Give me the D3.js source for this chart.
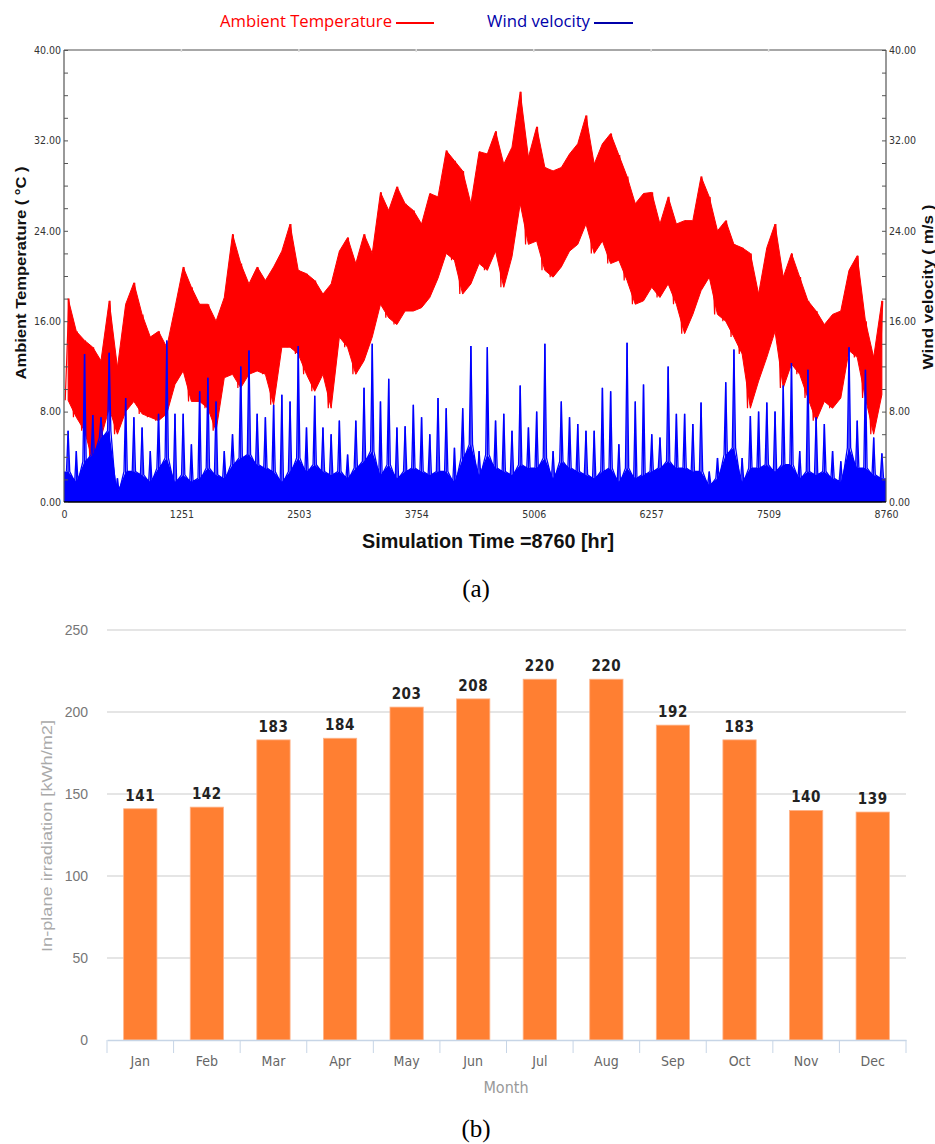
<!DOCTYPE html>
<html>
<head>
<meta charset="utf-8">
<script src="https://cdn.jsdelivr.net/npm/d3@7"></script>
<style>
  html, body { margin: 0; padding: 0; background: #fff; }
  svg { display: block; }
  .narrow { font-family: 'Liberation Sans Narrow', 'DejaVu Sans Condensed', 'Liberation Sans', Arial, sans-serif; }
</style>
</head>
<body>
<svg id="chart" width="935" height="1144"></svg>
<script>
// ---------------- DATA ----------------
// Panel (a): hourly simulation (8760 h) summarised in 100 bins of 87.6 h
const simHours = 8760;
const xTicksA = [0, 1251, 2503, 3754, 5006, 6257, 7509, 8760];
const yTicksA = [0, 8, 16, 24, 32, 40];

const tempHigh = [18,15.1,14.3,13.7,12.5,17.8,11.9,17.5,19.4,16.6,14.6,15.1,13.7,17.2,20.8,19,17.5,17.5,16,18.1,
  23.7,21.1,19.3,20.8,19.6,20.8,22.2,24.6,20.5,20.2,19.6,18.4,19.3,22.2,23.4,21.1,23.7,22,27.4,25.8,
  27.9,26.4,25.8,24.6,27.3,27,31.1,30.2,29.3,26.4,31,30.8,32.8,29.9,31.4,36.3,30.5,33.2,29.6,29.3,
  29.6,30.8,31.7,34.2,29.9,31.7,32.6,30.7,28.8,26.4,27.3,27.4,24.6,27,24.6,24.9,24.9,28.8,27,24,
  24.9,22.8,22.5,22,18.4,22.5,24.6,19.9,22,19.9,17.8,16.9,15.7,16.6,16.9,20.5,21.8,16,12.8,17.8];
const tempLow = [9,7.5,6.3,3.6,5.7,8.3,6,8,8.9,7.8,7.5,7.2,7.8,10.4,11.6,8.9,8.9,8.3,6.3,11,
  11.3,10.1,11.3,11.6,11.3,8.6,13.7,13.7,13.1,11.3,9.8,11.3,8.3,14.6,13.7,11.3,12.5,14.6,17.5,16.3,
  15.7,16.9,16.9,17.2,18.1,19.8,22,21.4,18.4,19.3,21.1,20.5,22.2,19,21.7,26.4,22.8,23.1,20.5,19.9,
  20.8,22.2,22.8,24.6,22,23.1,21.1,21.4,19.6,17.5,17.8,19,18.1,19.3,17.5,14.9,16.6,18.7,19.9,16.6,
  16,14.6,13.1,8.3,10.7,12.8,15.1,10.1,12.2,11.3,9.2,7.2,8.9,8.3,9.2,13.4,12.8,9.2,6,9.5];
const windPeak = [6.3,4.5,13.1,7.7,7.5,13.2,2.1,9.2,7.5,6.6,4.5,7.8,14.3,7.8,7.8,5.1,9.8,11,8.9,4.5,
  6,12,13.4,7.8,7.5,8.6,9.5,8.9,13.8,6.6,9.4,6.6,6,7.2,4.2,7.2,10.1,14,8.9,10.9,
  6.6,6.7,8.6,7.5,6,9.2,8.3,4.8,8.3,13.8,4.5,13.7,7.2,7.8,6.3,10.3,6.6,8,14,4.5,
  8.9,7.5,6.9,6.3,6.3,10.1,9.8,5.1,14.1,8.9,10.4,6,5.7,12,7.8,7.8,6.9,8.8,2.7,3.9,
  10.6,13.5,3.9,7.6,8,8.8,8,10.3,12.3,4.5,11.7,7.5,6.9,4.5,3.6,13.7,7.2,11.7,5.7,4.3];
const windTypical = [2.7,1.8,3.6,4.2,5.7,6.3,0.9,2.7,2.7,2.4,1.8,3,3.9,1.8,2.4,1.8,2.1,3,2.4,2.1,
  3.3,3.9,4.2,3.3,3,2.7,1.8,2.7,3.9,2.7,3.3,2.7,2.4,2.7,2.1,3,3.6,4.5,2.4,3.3,
  2.1,2.7,3,2.7,2.4,2.7,2.7,1.8,3.9,5.1,2.4,4.2,3,2.7,2.4,3.3,3,3,3.9,2.1,
  3.6,3,2.7,2.4,2.1,2.7,3,1.8,3,2.1,2.4,2.7,3,3.6,3,3,2.7,2.7,1.5,2.1,
  4.2,4.8,1.8,3,3,3.3,2.7,3.3,3.3,2.1,2.7,2.4,2.7,2.1,1.8,4.8,3,3,2.4,2.1];

// Panel (b): monthly in-plane irradiation
const months = ["Jan","Feb","Mar","Apr","May","Jun","Jul","Aug","Sep","Oct","Nov","Dec"];
const irradiation = [141,142,183,184,203,208,220,220,192,183,140,139];
const yTicksB = [0, 50, 100, 150, 200, 250];

// ---------------- DRAW ----------------
const svg = d3.select("#chart");
const nBins = tempHigh.length;
const binH = simHours / nBins;

// ===== Panel (a) =====
const xA = d3.scaleLinear().domain([0, simHours]).range([64, 886]);
const yA = d3.scaleLinear().domain([0, 40]).range([502, 50]);

const gA = svg.append("g");

// temperature band
const tempPts = tempHigh.map((h, i) => ({ t: (i + 0.5) * binH, hi: h, lo: tempLow[i] }));
const tempArea = d3.area()
  .x(d => xA(d.t)).y0(d => yA(d.lo)).y1(d => yA(d.hi)).curve(d3.curveLinear);
gA.append("path").datum(tempPts).attr("d", tempArea)
  .attr("fill", "#ff0000").attr("stroke", "#ff0000").attr("stroke-width", 1);

// zigzag texture for temperature
const zig = [];
tempPts.forEach((d, i) => {
  zig.push([xA(i * binH + binH * 0.15), yA(d.lo)]);
  zig.push([xA(i * binH + binH * 0.6), yA(d.hi)]);
});
gA.append("path").attr("d", d3.line()(zig))
  .attr("fill", "none").attr("stroke", "#ff0000").attr("stroke-width", 1.2);

// wind dense part
const windPts = windTypical.map((v, i) => ({ t: (i + 0.5) * binH, v: v, p: windPeak[i] }));
const windArea = d3.area()
  .x(d => xA(d.t)).y0(yA(0)).y1(d => yA(d.v)).curve(d3.curveLinear);
gA.append("path").datum([{t:0, v:windTypical[0]}, ...windPts, {t:simHours, v:windTypical[nBins-1]}])
  .attr("d", windArea).attr("fill", "#0000ff");

// wind spikes (narrow)
const wz = [];
windPts.forEach((d, i) => {
  wz.push([xA(i * binH + binH * 0.3), yA(d.v)]);
  wz.push([xA(d.t), yA(d.p)]);
  wz.push([xA(i * binH + binH * 0.7), yA(d.v)]);
});
gA.append("path").attr("d", d3.line()(wz))
  .attr("fill", "none").attr("stroke", "#0000ff").attr("stroke-width", 1.3);
gA.selectAll("line.spike").data(windPts).join("line")
  .attr("class", "spike")
  .attr("x1", d => xA(d.t)).attr("x2", d => xA(d.t))
  .attr("y1", yA(0)).attr("y2", d => yA(d.p))
  .attr("stroke", "#0000ff").attr("stroke-width", 1.4);

// frame
gA.append("line").attr("x1", 64).attr("x2", 886).attr("y1", 50).attr("y2", 50)
  .attr("stroke", "#8a8a8a").attr("stroke-width", 1.5);
gA.append("line").attr("x1", 64).attr("x2", 64).attr("y1", 50).attr("y2", 502)
  .attr("stroke", "#555").attr("stroke-width", 1.2);
gA.append("line").attr("x1", 886).attr("x2", 886).attr("y1", 50).attr("y2", 502)
  .attr("stroke", "#555").attr("stroke-width", 1.2);
gA.append("line").attr("x1", 64).attr("x2", 886).attr("y1", 502).attr("y2", 502)
  .attr("stroke", "#000").attr("stroke-width", 1.5);

// minor ticks (inside)
const minor = d3.range(0, 41, 2);
const leftMinor = gA.append("g").attr("transform", "translate(64,0)")
  .call(d3.axisRight(yA).tickValues(minor).tickSize(4).tickFormat(""));
leftMinor.select(".domain").remove();
leftMinor.selectAll("line").attr("stroke", "#555");
const rightMinor = gA.append("g").attr("transform", "translate(886,0)")
  .call(d3.axisLeft(yA).tickValues(minor).tickSize(4).tickFormat(""));
rightMinor.select(".domain").remove();
rightMinor.selectAll("line").attr("stroke", "#555");

// tick labels
const fmt = d3.format(".2f");
const leftAx = gA.append("g").attr("transform", "translate(64,0)")
  .call(d3.axisLeft(yA).tickValues(yTicksA).tickSize(0).tickPadding(3).tickFormat(fmt));
const rightAx = gA.append("g").attr("transform", "translate(886,0)")
  .call(d3.axisRight(yA).tickValues(yTicksA).tickSize(0).tickPadding(3).tickFormat(fmt));
const botAx = gA.append("g").attr("transform", "translate(0,502)")
  .call(d3.axisBottom(xA).tickValues(xTicksA).tickSize(0).tickPadding(9).tickFormat(d3.format("d")));
[leftAx, rightAx, botAx].forEach(a => {
  a.select(".domain").remove();
  a.selectAll("text").attr("class", "narrow").attr("font-size", 10.5).attr("fill", "#333");
});

// top tick marks
gA.selectAll("line.toptick").data(xTicksA.slice(1, -1)).join("line")
  .attr("class", "toptick")
  .attr("x1", d => xA(d)).attr("x2", d => xA(d)).attr("y1", 49).attr("y2", 52)
  .attr("stroke", "#ddd").attr("stroke-width", 1.5);

// axis titles
gA.append("text").attr("transform", "translate(26,273) rotate(-90)")
  .attr("text-anchor", "middle").attr("font-family", "'Liberation Sans', Arial, sans-serif")
  .attr("font-weight", "bold").attr("font-size", 14.5).attr("fill", "#111")
  .attr("textLength", 213).attr("lengthAdjust", "spacingAndGlyphs")
  .text("Ambient Temperature ( °C )");
gA.append("text").attr("transform", "translate(933,287) rotate(-90)")
  .attr("text-anchor", "middle").attr("font-family", "'Liberation Sans', Arial, sans-serif")
  .attr("font-weight", "bold").attr("font-size", 14.5).attr("fill", "#111")
  .attr("textLength", 165).attr("lengthAdjust", "spacingAndGlyphs")
  .text("Wind velocity ( m/s )");
gA.append("text").attr("x", 488).attr("y", 548)
  .attr("text-anchor", "middle").attr("font-family", "'Liberation Sans', Arial, sans-serif")
  .attr("font-weight", "bold").attr("font-size", 21).attr("fill", "#111")
  .attr("textLength", 252).attr("lengthAdjust", "spacingAndGlyphs")
  .text("Simulation Time =8760 [hr]");

// legend
const legend = [
  { name: "Ambient Temperature", color: "#ff0000", x: 220, w: 172, lx: 396, lw: 38 },
  { name: "Wind velocity", color: "#0000aa", x: 487, w: 103, lx: 594, lw: 39 }
];
legend.forEach(l => {
  gA.append("text").attr("x", l.x).attr("y", 27)
    .attr("font-family", "'Open Sans', 'Liberation Sans', sans-serif").attr("font-size", 17)
    .attr("fill", l.color).attr("textLength", l.w).attr("lengthAdjust", "spacingAndGlyphs")
    .text(l.name);
  gA.append("line").attr("x1", l.lx).attr("x2", l.lx + l.lw).attr("y1", 23).attr("y2", 23)
    .attr("stroke", l.color).attr("stroke-width", 2);
});

// (a)
svg.append("text").attr("x", 476).attr("y", 597).attr("text-anchor", "middle")
  .attr("font-family", "'Liberation Serif', 'Times New Roman', serif").attr("font-size", 25)
  .attr("fill", "#000").text("(a)");

// ===== Panel (b) =====
const xB = d3.scaleBand().domain(months).range([107, 906]).paddingInner(0.5).paddingOuter(0.25);
const yB = d3.scaleLinear().domain([0, 250]).range([1040, 630]);
const gB = svg.append("g");

// gridlines
gB.selectAll("line.grid").data(yTicksB.slice(1)).join("line")
  .attr("class", "grid")
  .attr("x1", 107).attr("x2", 906)
  .attr("y1", d => yB(d)).attr("y2", d => yB(d))
  .attr("stroke", "#dcdcdc").attr("stroke-width", 1.5);

// y tick labels
const yAxB = gB.append("g").attr("transform", "translate(107,0)")
  .call(d3.axisLeft(yB).tickValues(yTicksB).tickSize(0).tickPadding(19));
yAxB.select(".domain").remove();
yAxB.selectAll("text").attr("font-family", "'Liberation Sans', Arial, sans-serif")
  .attr("font-size", 14).attr("fill", "#777");

// bars
gB.selectAll("rect.bar").data(irradiation).join("rect")
  .attr("class", "bar")
  .attr("x", (d, i) => xB(months[i]))
  .attr("width", xB.bandwidth())
  .attr("y", d => yB(d))
  .attr("height", d => yB(0) - yB(d))
  .attr("fill", "#ff7f32").attr("stroke", "#ffb48a").attr("stroke-width", 0.8);

// value labels
gB.selectAll("text.val").data(irradiation).join("text")
  .attr("class", "val narrow")
  .attr("x", (d, i) => xB(months[i]) + xB.bandwidth() / 2)
  .attr("y", d => yB(d) - 8)
  .attr("text-anchor", "middle").attr("font-weight", "bold").attr("font-size", 15)
  .attr("letter-spacing", 0.6).attr("fill", "#222")
  .text(d => d);

// x axis
const xAxB = gB.append("g").attr("transform", "translate(0,1040)")
  .call(d3.axisBottom(xB).tickSize(0).tickPadding(16));
xAxB.select(".domain").attr("stroke", "#c7d5e6").attr("stroke-width", 1.5);
xAxB.selectAll("text").attr("class", "narrow").attr("font-size", 14).attr("fill", "#666");
// category boundary ticks
const bounds = months.map(m => xB(m) - xB.step() * 0.25).concat([906]);
gB.selectAll("line.bnd").data(bounds).join("line")
  .attr("class", "bnd")
  .attr("x1", d => d).attr("x2", d => d).attr("y1", 1040).attr("y2", 1053)
  .attr("stroke", "#c7d5e6").attr("stroke-width", 1);

// titles
gB.append("text").attr("x", 506).attr("y", 1093).attr("text-anchor", "middle")
  .attr("class", "narrow").attr("font-size", 16).attr("fill", "#999").text("Month");
gB.append("text").attr("transform", "translate(52,836) rotate(-90)")
  .attr("text-anchor", "middle").attr("font-family", "'Liberation Sans', Arial, sans-serif")
  .attr("font-size", 14).attr("fill", "#aaa")
  .attr("textLength", 232).attr("lengthAdjust", "spacingAndGlyphs")
  .text("In-plane irradiation [kWh/m2]");

svg.append("text").attr("x", 476).attr("y", 1137).attr("text-anchor", "middle")
  .attr("font-family", "'Liberation Serif', 'Times New Roman', serif").attr("font-size", 25)
  .attr("fill", "#000").text("(b)");
</script>
</body>
</html>
